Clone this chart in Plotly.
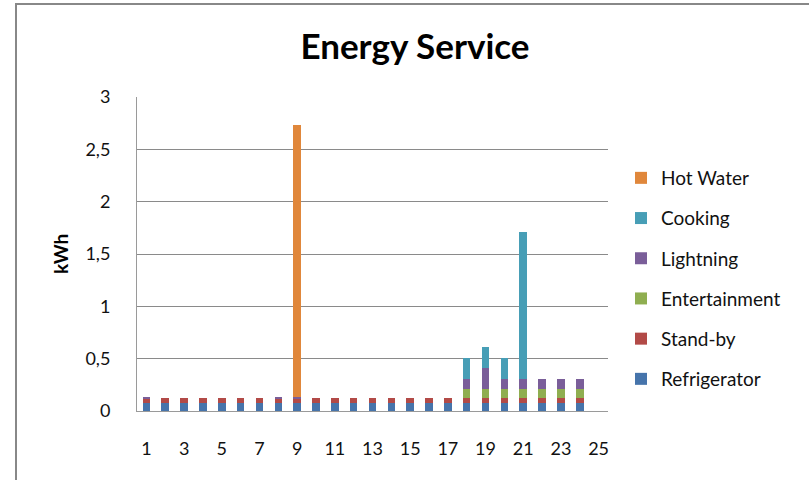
import plotly.graph_objects as go

# Hourly energy use per service (kWh), hours 1..24
hours = list(range(1, 25))
refrigerator = [0.08] * 24
stand_by = [0.04] * 24
entertainment = [0] * 17 + [0.09] * 7
lightning = [0.01, 0, 0, 0, 0, 0, 0, 0.01, 0.01, 0, 0, 0, 0, 0, 0, 0, 0,
             0.1, 0.2, 0.1, 0.1, 0.1, 0.1, 0.1]
cooking = [0] * 17 + [0.2, 0.2, 0.2, 1.4, 0, 0, 0]
hot_water = [0] * 8 + [2.6] + [0] * 15

x_ticks = list(range(1, 26, 2))
y_ticks = [0, 0.5, 1, 1.5, 2, 2.5, 3]
y_tick_text = ["0", "0,5", "1", "1,5", "2", "2,5", "3"]

series = [
    ("Refrigerator", refrigerator, "#4674AB"),
    ("Stand-by", stand_by, "#B24A47"),
    ("Entertainment", entertainment, "#8FAE50"),
    ("Lightning", lightning, "#7A5E99"),
    ("Cooking", cooking, "#479EB6"),
    ("Hot Water", hot_water, "#E0873B"),
]

fig = go.Figure()
for i, (name, vals, color) in enumerate(series):
    # top of the stack is listed first in the legend
    fig.add_trace(go.Bar(
        x=hours, y=vals, name=name, legendgroup=str(i),
        legendrank=100 - i,
        marker=dict(color=color, line=dict(width=0)),
    ))

font_family = "Lato, Open Sans, sans-serif"
W, H = 809, 480
L, R, T, B = 137, 201, 97, 69
PW, PH = W - L - R, H - T - B

fig.update_layout(
    width=W, height=H,
    barmode="stack", bargap=0.6,
    margin=dict(l=L, r=R, t=T, b=B),
    paper_bgcolor="white", plot_bgcolor="white",
    font=dict(family=font_family, color="#111", size=18),
    title=dict(text="<b>Energy Service</b>", x=415 / W, xanchor="center",
               y=1 - 47 / H, yanchor="middle",
               font=dict(size=35, family=font_family, color="#000")),
    showlegend=True,
    legend=dict(traceorder="grouped", tracegroupgap=12.5,
                x=(621 - L) / PW, xanchor="left",
                y=(H - B - 159) / PH, yanchor="top",
                font=dict(size=19, family=font_family, color="#111"),
                bgcolor="rgba(0,0,0,0)"),
    xaxis=dict(range=[0.5, 25.5], tickmode="array", tickvals=x_ticks,
               showgrid=False, zeroline=False, showline=True,
               linecolor="#9a9a9a", linewidth=1, ticks="",
               tickfont=dict(size=18), ticklabelstandoff=21,
               fixedrange=True),
    yaxis=dict(range=[0, 3], tickmode="array", tickvals=y_ticks,
               ticktext=y_tick_text, showgrid=True, gridcolor="#8a8a8a",
               gridwidth=1, zeroline=False, showline=True,
               linecolor="#9a9a9a", linewidth=1, ticks="",
               tickfont=dict(size=18), ticklabelstandoff=22,
               fixedrange=True),
    annotations=[dict(text="<b>kWh</b>", textangle=-90, showarrow=False,
                      xref="paper", yref="paper",
                      x=(60 - L) / PW, xanchor="center",
                      y=0.5, yanchor="middle",
                      font=dict(size=19, family=font_family, color="#000"))],
    shapes=[dict(type="rect", xref="paper", yref="paper",
                 x0=(16 - L) / PW, x1=(W + 20 - L) / PW,
                 y0=(H - B - H - 20) / PH,
                 y1=(H - B - 4) / PH,
                 line=dict(color="#888888", width=2), layer="below")],
)

fig.write_html("out.html")
